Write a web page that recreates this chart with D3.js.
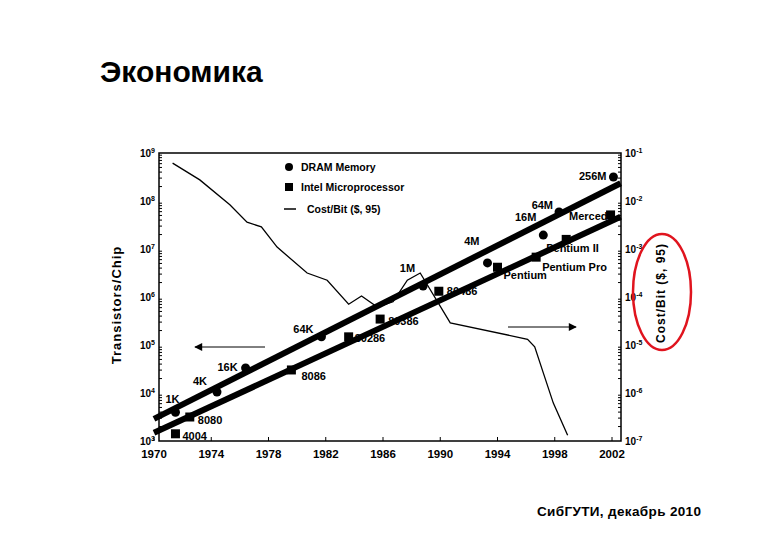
<!DOCTYPE html><html><head><meta charset="utf-8"><script src="https://cdn.jsdelivr.net/npm/d3@7"></script>
<style>body{margin:0;background:#fff}text{font-family:Arial,"Liberation Sans",sans-serif}</style></head><body><svg id="c" width="780" height="540"></svg><script>
const xTicks=[1970,1974,1978,1982,1986,1990,1994,1998,2002];
const leftTicks=[3,4,5,6,7,8,9];
const rightTicks=[-7,-6,-5,-4,-3,-2,-1];
const dramNames=["1K","4K","16K","64K","1M","4M","16M","64M","256M"];
const dramYears=[1971.5,1974.4,1976.4,1981.7,1988.8,1993.3,1997.2,1998.3,2002.1];
const dramLog=[3.6,4.02,4.52,5.17,6.23,6.71,7.29,7.77,8.5];
const intelNames=["4004","8080","8086","80286","80386","80486","Pentium","Pentium Pro","Pentium II","Merced"];
const intelYears=[1971.5,1972.5,1979.6,1983.6,1985.8,1989.9,1994,1996.7,1998.8,2001.9];
const intelLog=[3.15,3.5,4.48,5.17,5.54,6.12,6.62,6.83,7.2,7.71];
const costYears=[1971.3,1973.2,1975.3,1976.5,1977.5,1978.6,1980.7,1982.1,1983.6,1984.5,1985.6,1986.7,1987.7,1988.6,1990.7,1996.1,1996.6,1997.2,1997.9,1998.9];
const costLog=[-1.21,-1.56,-2.08,-2.44,-2.54,-2.96,-3.5,-3.65,-4.15,-3.98,-4.21,-4.10,-3.65,-3.5,-4.54,-4.88,-5.04,-5.58,-6.21,-6.88];
const trendYears=[1970,2002.6];
const dramTrend=[3.46,8.37];
const intelTrend=[3.17,7.67];

const svg=d3.select("#c");
const x=d3.scaleLinear().domain([1970,2002]).range([154,612]);
const yL=d3.scaleLinear().domain([3,9]).range([441,153]);
const yR=d3.scaleLinear().domain([-7,-1]).range([441,153]);
const L=159,R=621,T=153,B=441;
svg.append("text").attr("x",100).attr("y",82).attr("font-size",30).attr("font-weight","bold").text("Экономика");
svg.append("text").attr("x",537).attr("y",516).attr("font-size",13.5).attr("font-weight","bold").attr("textLength",164).text("СибГУТИ, декабрь 2010");
svg.append("rect").attr("x",L).attr("y",T).attr("width",R-L).attr("height",B-T).attr("fill","none").attr("stroke","#000").attr("stroke-width",1.5);
const g=svg.append("g").attr("font-weight","bold");
xTicks.forEach(t=>{g.append("text").attr("x",x(t)).attr("y",B+17).attr("text-anchor","middle").attr("font-size",11.5).text(t);
 g.append("line").attr("x1",x(t)).attr("x2",x(t)).attr("y1",B).attr("y2",B-4).attr("stroke","#000");});
leftTicks.forEach(t=>{const tx=g.append("text").attr("x",L-4).attr("y",yL(t)+4).attr("text-anchor","end").attr("font-size",10);tx.append("tspan").text("10");tx.append("tspan").attr("dy",-4).attr("font-size",7).text(t);
 for(let k=2;k<10&&t<9;k++){const yy=yL(t+Math.log10(k));g.append("line").attr("x1",L).attr("x2",L+3).attr("y1",yy).attr("y2",yy).attr("stroke","#000");}});
rightTicks.forEach(t=>{const tx=g.append("text").attr("x",R+4).attr("y",yR(t)+4).attr("font-size",10);tx.append("tspan").text("10");tx.append("tspan").attr("dy",-4).attr("font-size",7).text(t);
 for(let k=2;k<10&&t<-1;k++){const yy=yR(t+Math.log10(k));g.append("line").attr("x1",R).attr("x2",R-3).attr("y1",yy).attr("y2",yy).attr("stroke","#000");}});
svg.append("text").attr("transform","translate(121,305) rotate(-90)").attr("text-anchor","middle").attr("font-size",13).attr("font-weight","bold").attr("letter-spacing",1).text("Transistors/Chip");
svg.append("text").attr("transform","translate(665,293) rotate(-90)").attr("text-anchor","middle").attr("font-size",12).attr("font-weight","bold").attr("letter-spacing",1).text("Cost/Bit ($, 95)");
svg.append("ellipse").attr("cx",662).attr("cy",292).attr("rx",29).attr("ry",58).attr("fill","none").attr("stroke","#e0141e").attr("stroke-width",2.5);
const line=d3.line();
svg.append("path").attr("d",line(trendYears.map((t,i)=>[x(t),yL(dramTrend[i])]))).attr("stroke","#000").attr("stroke-width",6);
svg.append("path").attr("d",line(trendYears.map((t,i)=>[x(t),yL(intelTrend[i])]))).attr("stroke","#000").attr("stroke-width",6);
svg.append("path").attr("d",line(costYears.map((t,i)=>[x(t),yR(costLog[i])]))).attr("fill","none").attr("stroke","#000").attr("stroke-width",1.3);
dramYears.forEach((t,i)=>svg.append("circle").attr("cx",x(t)).attr("cy",yL(dramLog[i])).attr("r",4.5).attr("fill","#000"));
intelYears.forEach((t,i)=>svg.append("rect").attr("x",x(t)-4.5).attr("y",yL(intelLog[i])-4.5).attr("width",9).attr("height",9).attr("fill","#000"));
const dOff=[[-10,-9,"start"],[-10,-7,"end"],[-8,3,"end"],[-8,-4,"end"],[-8,-14,"end"],[-8,-18,"end"],[-7,-14,"end"],[-6,-3,"end"],[-7,3,"end"]];
const iOff=[[7,6,"start"],[8,7,"start"],[10,10,"start"],[6,5,"start"],[8,6,"start"],[8,4,"start"],[6,12,"start"],[6,14,"start"],[-20,13,"start"],[-3,5,"end"]];
const lab=svg.append("g").attr("font-size",11).attr("font-weight","bold");
dramYears.forEach((t,i)=>lab.append("text").attr("x",x(t)+dOff[i][0]).attr("y",yL(dramLog[i])+dOff[i][1]).attr("text-anchor",dOff[i][2]).text(dramNames[i]));
intelYears.forEach((t,i)=>lab.append("text").attr("x",x(t)+iOff[i][0]).attr("y",yL(intelLog[i])+iOff[i][1]).attr("text-anchor",iOff[i][2]).text(intelNames[i]));
svg.append("circle").attr("cx",289).attr("cy",167).attr("r",4).attr("fill","#000");
svg.append("rect").attr("x",285).attr("y",183).attr("width",8).attr("height",8).attr("fill","#000");
svg.append("line").attr("x1",284).attr("x2",296).attr("y1",209).attr("y2",209).attr("stroke","#000").attr("stroke-width",1.5);
[["DRAM Memory",171],["Intel Microprocessor",191],["Cost/Bit ($, 95)",213]].forEach(d=>lab.append("text").attr("x",d[0][0]=="C"?307:301).attr("y",d[1]).attr("font-size",10.5).text(d[0]));
svg.append("defs").append("marker").attr("id","ah").attr("viewBox","0 0 10 10").attr("refX",9).attr("refY",5).attr("markerWidth",12).attr("markerHeight",8).attr("markerUnits","userSpaceOnUse").attr("orient","auto").append("path").attr("d","M0,0L10,5L0,10Z");
svg.append("line").attr("x1",265).attr("x2",195).attr("y1",347).attr("y2",347).attr("stroke","#000").attr("marker-end","url(#ah)");
svg.append("line").attr("x1",508).attr("x2",576).attr("y1",327).attr("y2",327).attr("stroke","#000").attr("marker-end","url(#ah)");
</script></body></html>
